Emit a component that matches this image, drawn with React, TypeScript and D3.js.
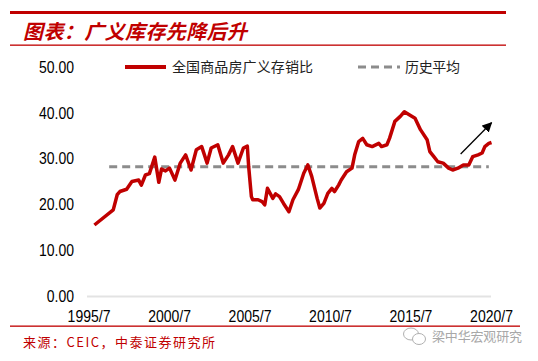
import React, { useEffect, useRef } from "react";
import * as d3 from "d3";

// inventory / sales ratio
const months = [
  "1995-11", "1997-01", "1997-04", "1997-06", "1997-11", "1998-03", "1998-08", "1998-10",
  "1999-01", "1999-04", "1999-08", "1999-11", "2000-01", "2000-04", "2000-07", "2000-11",
  "2001-03", "2001-07", "2001-11", "2002-03", "2002-07", "2002-11", "2003-02", "2003-07",
  "2003-11", "2004-03", "2004-06", "2004-10", "2005-02", "2005-05", "2005-06", "2005-08",
  "2005-09", "2006-01", "2006-04", "2006-06", "2006-08", "2006-10", "2006-12", "2007-02",
  "2007-05", "2007-08", "2007-12", "2008-03", "2008-07", "2008-11", "2009-02", "2009-05",
  "2009-09", "2009-11", "2010-02", "2010-05", "2010-08", "2010-10", "2011-01", "2011-03",
  "2011-07", "2011-11", "2012-01", "2012-04", "2012-07", "2012-10", "2013-02", "2013-07",
  "2013-09", "2014-01", "2014-03", "2014-07", "2014-11", "2015-02", "2015-06", "2015-10",
  "2016-02", "2016-07", "2016-09", "2016-12", "2017-03", "2017-07", "2017-11", "2018-02",
  "2018-06", "2018-10", "2019-02", "2019-05", "2019-09", "2019-12", "2020-02", "2020-05",
  "2020-07",
];
const ratio = [
  15.6, 18.9, 22.2, 22.9, 23.4, 25.1, 25.4, 24.3,
  26.5, 26.8, 30.4, 24.9, 27.8, 27.4, 28.0, 25.4,
  29.1, 30.9, 27.6, 32.0, 32.7, 29.1, 32.4, 33.1,
  29.1, 30.9, 32.7, 29.1, 32.4, 32.8, 28.3, 21.8,
  21.1, 21.1, 20.7, 20.0, 23.6, 22.5, 21.4, 22.4,
  21.8, 20.3, 18.5, 21.1, 23.3, 26.9, 28.7, 26.2,
  21.4, 19.3, 20.3, 22.5, 23.6, 22.9, 24.3, 25.4,
  27.2, 28.0, 30.9, 33.8, 34.5, 33.1, 32.7, 33.4,
  32.7, 33.1, 34.5, 38.2, 39.3, 40.3, 39.6, 38.9,
  36.4, 34.2, 31.6, 30.5, 29.4, 29.1, 28.0, 27.6,
  28.0, 28.7, 28.7, 30.5, 30.9, 31.3, 32.7, 33.4,
  33.6,
];

const avgValue = 28.3;
const avgRange = ["1996-10", "2020-05"];
const arrowFrom = ["2018-08", 31.1] as const;
const arrowTo = ["2020-07", 37.9] as const;

const yTicks = [0, 10, 20, 30, 40, 50];
const xTicks = ["1995-07", "2000-07", "2005-07", "2010-07", "2015-07", "2020-07"];

const seriesName = "全国商品房广义存销比";
const avgName = "历史平均";
const title = "图表：广义库存先降后升";
const source = "来源：CEIC，中泰证券研究所";
const watermark = "梁中华宏观研究";

const RED = "#c00000";
const GREY = "#8c8c8c";

const App: React.FC = () => {
  const ref = useRef<SVGSVGElement>(null);

  useEffect(() => {
    const width = 538;
    const height = 361;
    const parse = d3.timeParse("%Y-%m");
    const svg = d3.select(ref.current);
    svg.selectAll("*").remove();
    svg.attr("width", width).attr("height", height);

    const x = d3
      .scaleTime()
      .domain([parse("1995-07")!, parse("2020-07")!])
      .range([89, 491.5]);
    const y = d3.scaleLinear().domain([0, 50]).range([296.5, 67.3]);

    // header
    svg.append("rect").attr("x", 10).attr("y", 11).attr("width", 496).attr("height", 3).attr("fill", RED);
    svg
      .append("text")
      .attr("x", 23)
      .attr("y", 39)
      .attr("font-family", "Noto Sans CJK SC")
      .attr("font-size", 20)
      .attr("font-weight", 700)
      .attr("font-style", "italic")
      .attr("fill", RED)
      .attr("textLength", 224)
      .text(title);
    svg.append("rect").attr("x", 10).attr("y", 44.5).attr("width", 496).attr("height", 1.3).attr("fill", RED);

    // baseline
    svg
      .append("line")
      .attr("x1", 87)
      .attr("x2", 491)
      .attr("y1", y(0))
      .attr("y2", y(0))
      .attr("stroke", "#e3e3e3")
      .attr("stroke-width", 2);

    // y labels
    yTicks.forEach((t) => {
      svg
        .append("text")
        .attr("transform", `translate(74,${y(t) + 5.5}) scale(1,1.16)`)
        .attr("text-anchor", "end")
        .attr("font-family", "Liberation Sans")
        .attr("font-size", 14)
        .attr("fill", "#000")
        .text(d3.format(".2f")(t));
    });

    // x labels
    xTicks.forEach((t) => {
      const d = parse(t)!;
      svg
        .append("text")
        .attr("transform", `translate(${x(d)},${321.5}) scale(1,1.16)`)
        .attr("text-anchor", "middle")
        .attr("font-family", "Liberation Sans")
        .attr("font-size", 14)
        .attr("fill", "#000")
        .text(d3.timeFormat("%Y/")(d) + (d.getMonth() + 1));
    });

    // average
    svg
      .append("line")
      .attr("x1", x(parse(avgRange[0])!))
      .attr("x2", x(parse(avgRange[1])!))
      .attr("y1", y(avgValue))
      .attr("y2", y(avgValue))
      .attr("stroke", GREY)
      .attr("stroke-width", 3)
      .attr("stroke-dasharray", "8,5");

    // series
    const pts = months.map((m, i) => ({ date: parse(m)!, value: ratio[i] }));
    const line = d3
      .line<{ date: Date; value: number }>()
      .x((d) => x(d.date))
      .y((d) => y(d.value));
    svg
      .append("path")
      .datum(pts)
      .attr("fill", "none")
      .attr("stroke", RED)
      .attr("stroke-width", 3.5)
      .attr("stroke-linejoin", "round")
      .attr("d", line);

    // arrow
    svg
      .append("defs")
      .append("marker")
      .attr("id", "head")
      .attr("viewBox", "0 0 10 10")
      .attr("refX", 9)
      .attr("refY", 5)
      .attr("markerWidth", 10)
      .attr("markerHeight", 10)
      .attr("markerUnits", "userSpaceOnUse")
      .attr("orient", "auto")
      .append("path")
      .attr("d", "M0,0 L10,5 L0,10 Z")
      .attr("fill", "#000");
    svg
      .append("line")
      .attr("x1", x(parse(arrowFrom[0])!))
      .attr("y1", y(arrowFrom[1]))
      .attr("x2", x(parse(arrowTo[0])!))
      .attr("y2", y(arrowTo[1]))
      .attr("stroke", "#000")
      .attr("stroke-width", 1.3)
      .attr("marker-end", "url(#head)");

    // legend
    const lg = svg.append("g");
    lg.append("line").attr("x1", 125).attr("x2", 166).attr("y1", 67).attr("y2", 67).attr("stroke", RED).attr("stroke-width", 4);
    lg.append("text")
      .attr("x", 172)
      .attr("y", 72)
      .attr("font-family", "Noto Sans CJK SC")
      .attr("font-size", 14)
      .attr("fill", "#222")
      .attr("textLength", 141)
      .text(seriesName);
    lg.append("line")
      .attr("x1", 358)
      .attr("x2", 400)
      .attr("y1", 67)
      .attr("y2", 67)
      .attr("stroke", GREY)
      .attr("stroke-width", 3)
      .attr("stroke-dasharray", "8,5");
    lg.append("text")
      .attr("x", 405)
      .attr("y", 72)
      .attr("font-family", "Noto Sans CJK SC")
      .attr("font-size", 14)
      .attr("fill", "#222")
      .attr("textLength", 55)
      .text(avgName);

    // footer
    svg.append("rect").attr("x", 10).attr("y", 325.5).attr("width", 510).attr("height", 1.3).attr("fill", RED);
    svg
      .append("text")
      .attr("x", 23)
      .attr("y", 347)
      .attr("font-family", "Noto Sans CJK SC")
      .attr("font-size", 13)
      .attr("fill", RED)
      .attr("textLength", 192)
      .text(source);

    // watermark
    const wm = svg.append("g").attr("stroke", "#b0b0b0").attr("fill", "none").attr("stroke-width", 1);
    wm.append("ellipse").attr("cx", 411).attr("cy", 334).attr("rx", 7.5).attr("ry", 6);
    wm.append("ellipse").attr("cx", 419).attr("cy", 339).attr("rx", 6.5).attr("ry", 5.5).attr("fill", "#fff");
    svg
      .append("text")
      .attr("x", 432)
      .attr("y", 341)
      .attr("font-family", "Noto Sans CJK SC")
      .attr("font-size", 13)
      .attr("fill", "#a8a8a8")
      .attr("textLength", 90)
      .text(watermark);
  }, []);

  return (
    <div style={{ position: "absolute", left: 0, top: 0, background: "#fff" }}>
      <svg ref={ref}></svg>
    </div>
  );
};

export default App;
